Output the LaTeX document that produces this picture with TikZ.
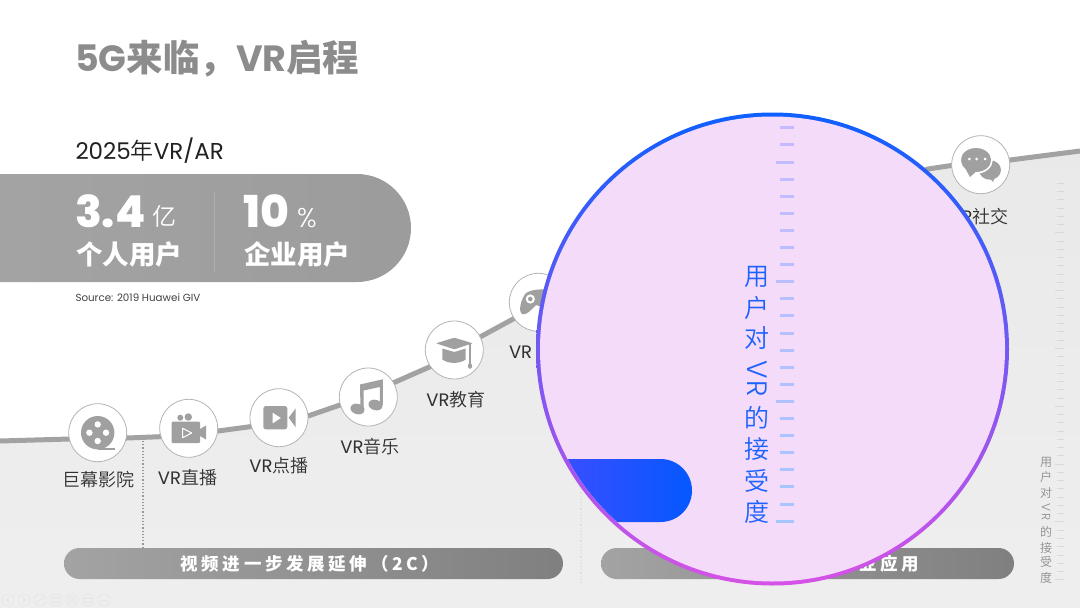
\documentclass[tikz,border=0pt]{standalone}
\usepackage{fontspec}
\setmainfont{Poppins}
\newfontfamily\cjk{Noto Sans CJK SC}
\newfontfamily\cjkl{Noto Sans CJK SC DemiLight}
\newfontfamily\popl{Poppins Light}
\newfontfamily\popx{Poppins ExtraBold}
\newcommand{\fsz}[1]{\fontsize{#1}{#1}\selectfont}
\definecolor{icon}{HTML}{A0A0A0}
\definecolor{curvec}{HTML}{A2A2A2}
\definecolor{ringc}{HTML}{B4B4B4}
\definecolor{labelc}{HTML}{303030}
\definecolor{tka}{HTML}{C6BAFF}
\definecolor{tkb}{HTML}{A5C5FF}
\definecolor{vrblue}{HTML}{1C62FF}
\definecolor{rt}{HTML}{0F5FFF}
\definecolor{rb}{HTML}{D652E6}
\definecolor{lensfill}{HTML}{F4DBFA}
\definecolor{pa}{HTML}{3A4EFF}
\definecolor{pb}{HTML}{0558FF}
\tikzset{
  every node/.style={inner sep=0pt,outer sep=0pt},
  badge/.style={circle,draw=ringc,line width=0.8pt,fill=white,minimum size=58pt},
  lab/.style={text=labelc,font=\fsz{18}},
  greypill/.style={rounded corners=15.5pt,minimum height=31pt,anchor=west,left color=black!36,middle color=black!33,right color=black!50,text=white},
  nav/.style={draw=black!10,line width=0.6pt},
}
\begin{document}
\begin{tikzpicture}[x=1pt,y=-1pt]
\useasboundingbox (0,0) rectangle (1080,608);
\fill[white] (0,0) rectangle (1080,608);
% curve coordinates
\foreach \n/\p in {c0/{0,441},c1/{70,439},c2/{127,438},c3/{160,436.7},c4/{218,431},c5/{250,426.7},c6/{308,416},c7/{340,405},c8/{393,383},c9/{430,366.7},c10/{480,337},c11/{515,318},c13/{928,169},c14/{950,165.7},c15/{1010,160},c16/{1080,151}}{\coordinate (\n) at (\p);}
\path[top color=black!8.5,bottom color=black!6.5] (c0)--(c1)--(c2)--(c3)--(c4)--(c5)--(c6)--(c7)--(c8)--(c9)--(c10)--(c11)--(c13)--(c14)--(c15)--(c16)--(1080,608)--(0,608)--cycle;
\draw[curvec,line width=5pt,line join=round] (c0)--(c1)--(c2)--(c3)--(c4)--(c5)--(c6)--(c7)--(c8)--(c9)--(c10)--(c11)--(c13)--(c14)--(c15)--(c16);
% dotted dividers
\coordinate (d1a) at (143,441); \coordinate (d1b) at (143,548);
\coordinate (d2a) at (581,486); \coordinate (d2b) at (581,584);
\draw[black!42,line width=1.2pt,dotted] (d1a)--(d1b);
\draw[black!13,line width=1.2pt,dotted] (d2a)--(d2b);
% title
\node[anchor=west,text=black!45] (title) at (75,59) {\fsz{36.5}\bfseries 5G{\cjk 来临，}VR{\cjk 启程}};
\node[anchor=west,text=black!87] (year) at (75.5,151) {\fsz{23}2025{\cjkl 年}VR/AR};
% stat pill
\path[left color=black!36,middle color=black!33,right color=black!39] (0,174) [rounded corners=54pt] -- (411,174) -- (411,282) [sharp corners] -- (0,282) -- cycle;
\draw[white,opacity=.18,line width=1pt] (214,192)--(214,272);
\node[anchor=west,text=white] (n1) at (75,211) {\fsz{44}\popx 3.4};
\node[anchor=west,text=white] (u1) at (152,216) {\fsz{24}\cjkl 亿};
\node[anchor=west,text=white] (n2) at (243,211) {\fsz{44}\popx 10};
\node[anchor=west,text=white] (u2) at (297,218) {\fsz{27}\popl\%};
\node[anchor=west,text=white] (s1) at (76,254) {\fsz{26.5}\cjk\bfseries 个人用户};
\node[anchor=west,text=white] (s2) at (244,254) {\fsz{26.5}\cjk\bfseries 企业用户};
\node[anchor=west,text=black!75] (src) at (75.5,298) {\fsz{10.3}Source: 2019 Huawei GIV};
% labels
\node[lab] (l1) at (98.5,480) {\cjkl 巨幕影院};
\node[lab] (l2) at (187.5,478) {VR{\cjkl 直播}};
\node[lab] (l3) at (279,466) {VR{\cjkl 点播}};
\node[lab] (l4) at (370,447) {VR{\cjkl 音乐}};
\node[lab] (l5) at (456,400) {VR{\cjkl 教育}};
\node[lab,anchor=west] (l6) at (509,352.5) {VR};
\node[lab] (l7) at (979,217) {VR{\cjkl 社交}};
% badges
\node[badge] (b1) at (97.7,432.7) {};
\node[badge] (b2) at (188.7,428.3) {};
\node[badge] (b3) at (279,417.7) {};
\node[badge] (b4) at (368.3,397) {};
\node[badge] (b5) at (454.3,350) {};
\node[badge] (b6) at (538.3,302.3) {};
\node[badge] (b7) at (980.7,164.7) {};
% icon: reel
\fill[icon] (b1) circle (16.7);
\draw[icon,line width=1.6pt] (97.7,449) -- (115,449);
\foreach \a/\b in {0/-8.3,0/8.3,-8.3/0,8.3/0}{\fill[white] (97.7+\a,432.7+\b) circle (3.2);}
% icon: live camera
\fill[icon,rounded corners=1pt] (171.7,421.7) rectangle (200,443);
\fill[icon] (200,429)--(206,425.5)--(206,439.5)--(200,436)--cycle;
\fill[icon] (180.3,417.7) circle (3); \fill[icon] (188.3,417) circle (3.7);
\draw[white,line width=1pt,line join=round] (182.7,428.3)--(182.7,437.7)--(191.7,433)--cycle;
% icon: video
\fill[icon,rounded corners=2.5pt] (263.3,406) rectangle (287.3,429.3);
\fill[icon] (288.7,417.7)--(295.7,408.3)--(295.7,427.3)--cycle;
\fill[white] (272.7,412.7)--(272.7,423.3)--(280.8,418)--cycle;
% icon: music
\fill[icon,rotate around={-15:(357.5,409)}] (357.5,409) ellipse (7.2 and 5.2);
\fill[icon,rotate around={-15:(375.5,405)}] (375.5,405) ellipse (7.2 and 5.2);
\fill[icon] (360,384.5)--(382.8,379.3)--(382.8,405)--(379.8,405)--(379.8,387)--(363.5,390.5)--(363.5,409)--(360.5,409)--cycle;
% icon: cap
\fill[icon,rounded corners=.6pt] (436,343.3)--(454.3,337.7)--(472.7,343.3)--(454.3,349.3)--cycle;
\fill[icon] (442.3,348.5)--(454.3,352)--(465.7,348.5)--(465.7,359.5) .. controls (460,364) and (448,364) .. (442.3,359.5)--cycle;
\draw[icon,line width=1.1pt] (470,344)--(470,364);
\fill[icon] (470,366) ellipse (2.1 and 2.8);
% icon: gamepad
\fill[icon] (526,293) .. controls (534,288) and (548,289) .. (556,291) -- (556,312) -- (536,305) .. controls (531,310) and (526,316) .. (522,314) .. controls (518,311) and (521,299) .. (526,293) -- cycle;
\fill[white] (530.3,299) circle (4.6);
\fill[icon] (530.3,299) circle (2.3);
% icon: chat
\fill[icon] (990,170) ellipse (11 and 9.7);
\fill[icon] (987,175)--(993,182)--(996,174)--cycle;
\draw[white,line width=1.6pt,fill=icon] (976,160) ellipse (16 and 12.9);
\fill[icon] (965,168)--(970,177)--(978,170)--cycle;
\foreach \x in {969.3,976.7,985}{\fill[white] (\x,159) circle (1.5);}
% bottom pills
\node[greypill,minimum width=499pt] (p1) at (64,563.5) {};
\node[anchor=center,text=white] (p1t) at (310,564) {\fsz{17.5}\cjk\bfseries\addfontfeature{LetterSpace=21}视频进一步发展延伸（{2C}）};
\node[greypill,minimum width=413pt] (p2) at (601,563.5) {};
\node[anchor=east,text=white] (p2t) at (919,564) {\fsz{17.5}\cjk\bfseries\addfontfeature{LetterSpace=21}业应用};
% right ruler
\foreach \k in {0,...,48}{
  \pgfmathtruncatemacro\r{mod(\k,7)}
  \pgfmathsetmacro\yy{183.3+8.26*\k}
  \ifnum\r=6 \draw[black!15,line width=1pt] (1055,\yy)--(1064,\yy);
  \else \draw[black!15,line width=1pt] (1057,\yy)--(1064,\yy); \fi
}
\foreach \i/\c/\yy in {1/用/462,2/户/477,3/对/492.5,6/的/532,7/接/547.5,8/受/562,9/度/577.5}{
  \node[text=black!45] (rv\i) at (1046,\yy) {\fsz{12}\cjkl \c};}
\node[text=black!45,rotate=-90] (rv4) at (1046,507) {\fsz{12}\popl V};
\node[text=black!45,rotate=-90] (rv5) at (1046,517) {\fsz{12}\popl R};
% nav
\foreach \x in {8,24,40,56,72,88,104}{\draw[nav] (\x,600) circle (6);}
\draw[nav] (9.5,597.5)--(6.5,600)--(9.5,602.5);
\draw[nav] (22.5,597.5)--(25.5,600)--(22.5,602.5);
\draw[nav] (37,603)--(43,597);
\draw[nav] (53.5,597.5) rectangle (58.5,602.5);
\draw[nav] (71.5,599.5) circle (2.5); \draw[nav] (73.5,601.5)--(75.5,603.5);
\draw[nav] (84.5,598) rectangle (91.5,602);
\draw[nav] (100.5,600)--(107.5,600);
% lens
\path[top color=rt,bottom color=rb] (772.5,349) circle (236.5);
\fill[lensfill] (772.5,349) circle (232.5);
\begin{scope}
\clip (772.5,349) circle (232.5);
\path[left color=pa,right color=pb] (560,459) [rounded corners=31.5pt] -- (692,459) -- (692,522) [sharp corners] -- (560,522) -- cycle;
\end{scope}
\foreach \k in {0,...,23}{
  \pgfmathtruncatemacro\r{mod(\k,7)}
  \pgfmathsetmacro\yy{round(127.3+17.1*\k)+0.5}
  \pgfmathsetmacro\mm{100-100*\k/23}
  \ifnum\r=2 \draw[tka!\mm!tkb,line width=3pt] (776,\yy)--(794,\yy);
  \else \draw[tka!\mm!tkb,line width=3pt] (780,\yy)--(794,\yy); \fi
}
\foreach \i/\c/\yy in {1/用/277,2/户/308,3/对/338,6/的/418,7/接/449,8/受/481,9/度/512}{
  \node[text=vrblue] (v\i) at (757,\yy) {\fsz{25}\cjkl \c};}
\node[text=vrblue,rotate=-90] (v4) at (757,370) {\fsz{28}\popl V};
\node[text=vrblue,rotate=-90] (v5) at (757,389) {\fsz{28}\popl R};
\end{tikzpicture}
\end{document}
